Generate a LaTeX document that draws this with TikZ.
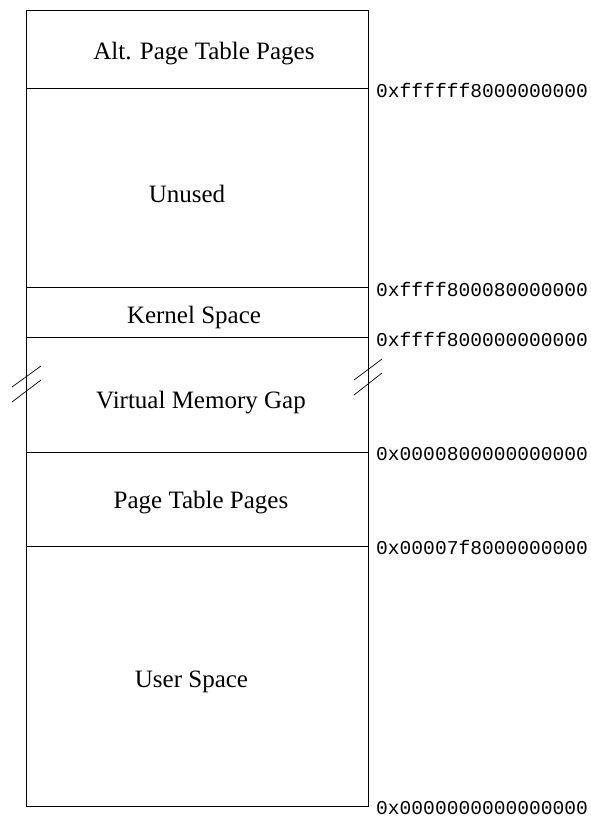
\documentclass[tikz,border=0pt]{standalone}
\usepackage{fontspec}
\setmainfont{Liberation Serif}
\newfontfamily\addrfont{Liberation Mono}
\begin{document}
\begin{tikzpicture}[x=1pt,y=-1pt,
  rule/.style={line width=0.9pt},
  brk/.style={line width=0.7pt},
  region/.style={anchor=base,inner sep=0pt,font=\fontsize{25}{30}\selectfont},
  addr/.style={anchor=base west,inner sep=0pt,font=\addrfont\fontsize{19.6}{24}\selectfont}]
\useasboundingbox (0,0) rectangle (591,817);
% outer box
\draw[rule] (26.3,10.3) rectangle (368,806);
% dividers
\foreach \y/\n in {88.5/a,287.5/b,337.5/c,452/d,546/e}{
  \coordinate (L\n) at (26.3,\y);
  \coordinate (R\n) at (368,\y);
  \draw[rule] (L\n) -- (R\n);
}
% region labels
\node[region] (alt)  at (204,59.3)  {Alt. Page Table Pages};
\node[region] (unu)  at (187,202.3) {Unused};
\node[region] (ker)  at (194,323.3) {Kernel Space};
\node[region] (gap)  at (201,408.3) {Virtual Memory Gap};
\node[region] (ptp)  at (201,508.3) {Page Table Pages};
\node[region] (usr)  at (191.5,687.3) {User Space};
% addresses
\node[addr] (a1) at (376,97)    {0xffffff8000000000};
\node[addr] (a2) at (376,296)   {0xffff800080000000};
\node[addr] (a3) at (376,346)   {0xffff800000000000};
\node[addr] (a4) at (376,460.5) {0x0000800000000000};
\node[addr] (a5) at (376,554.5) {0x00007f8000000000};
\node[addr] (a6) at (376,814.5) {0x0000000000000000};
% break marks
\coordinate (bl1a) at (12,387); \coordinate (bl1b) at (41,366);
\coordinate (bl2a) at (12,402); \coordinate (bl2b) at (41,380);
\coordinate (br1a) at (354,380); \coordinate (br1b) at (382,359);
\coordinate (br2a) at (354,395); \coordinate (br2b) at (382,373);
\draw[brk] (bl1a) -- (bl1b);
\draw[brk] (bl2a) -- (bl2b);
\draw[brk] (br1a) -- (br1b);
\draw[brk] (br2a) -- (br2b);
\end{tikzpicture}
\end{document}
